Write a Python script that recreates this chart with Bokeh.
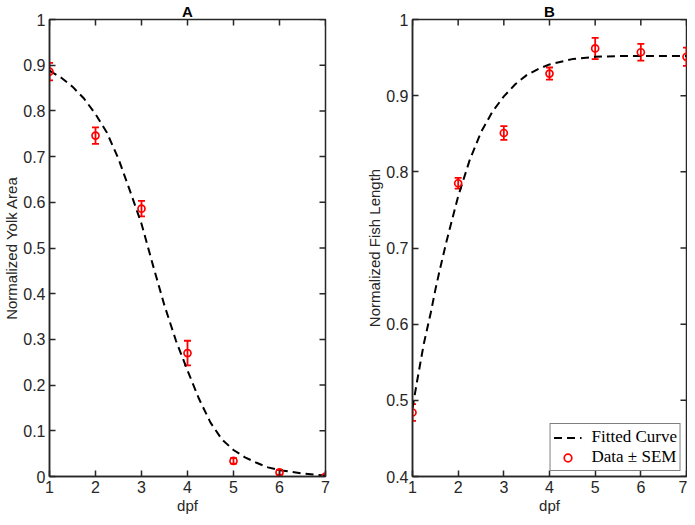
import math
from bokeh.plotting import figure
from bokeh.layouts import row
from bokeh.models import (FixedTicker, CustomJSTickFormatter, Whisker,
                          ColumnDataSource, Legend, LegendItem, Range1d, TeeHead)
from bokeh.embed import file_html
from bokeh.resources import INLINE

# ---------------- data ----------------
dpf = [1, 2, 3, 4, 5, 6, 7]

# Panel A: normalized yolk area
yolk_mean = [0.886, 0.746, 0.586, 0.270, 0.034, 0.009, 0.000]
yolk_sem = [0.019, 0.018, 0.017, 0.027, 0.006, 0.005, 0.002]
fit_a_x = [1.0, 1.25, 1.5, 1.75, 2.0, 2.25, 2.5, 2.75, 3.0, 3.25, 3.5, 3.75,
           4.0, 4.25, 4.5, 4.75, 5.0, 5.25, 5.5, 5.75, 6.0, 6.5, 7.0]
fit_a_y = [0.888, 0.873, 0.853, 0.827, 0.793, 0.752, 0.695, 0.625, 0.553, 0.462,
           0.374, 0.297, 0.232, 0.170, 0.118, 0.081, 0.058, 0.042, 0.030, 0.020,
           0.014, 0.0065, 0.002]

# Panel B: normalized fish length
length_mean = [0.484, 0.785, 0.851, 0.929, 0.962, 0.957, 0.951]
length_sem = [0.011, 0.007, 0.009, 0.008, 0.014, 0.011, 0.012]
fit_b_x = [1.0, 1.1, 1.25, 1.4, 1.5, 1.6, 1.75, 2.0, 2.25, 2.5, 2.75, 3.0, 3.25,
           3.5, 3.75, 4.0, 4.5, 5.0, 5.5, 6.0, 6.5, 7.0]
fit_b_y = [0.490, 0.525, 0.575, 0.615, 0.645, 0.672, 0.710, 0.768, 0.815, 0.852,
           0.879, 0.899, 0.915, 0.927, 0.935, 0.941, 0.948, 0.951, 0.952, 0.952,
           0.952, 0.952]

xticks = [1, 2, 3, 4, 5, 6, 7]
yticks_a = [0, 0.1, 0.2, 0.3, 0.4, 0.5, 0.6, 0.7, 0.8, 0.9, 1.0]
yticks_b = [0.4, 0.5, 0.6, 0.7, 0.8, 0.9, 1.0]

FONT = "Liberation Sans"
AX = "#262626"
RED = "#ff0000"


def style_axis(ax, ticks):
    ax.ticker = FixedTicker(ticks=ticks)
    ax.axis_line_color = AX
    ax.axis_line_width = 1.5
    ax.major_tick_line_color = AX
    ax.major_tick_line_width = 1.5
    ax.major_tick_in = 6
    ax.major_tick_out = 0
    ax.minor_tick_line_color = None
    ax.major_label_text_font = FONT
    ax.major_label_text_font_size = "16px"
    ax.major_label_text_color = AX
    ax.axis_label_text_font = FONT
    ax.axis_label_text_font_size = "15px"
    ax.axis_label_text_font_style = "normal"
    ax.axis_label_text_color = AX


def make_panel(title, ylabel, yr, yticks, fx, fy, m, e, fw, bl, br):
    x_range = Range1d(1, 7)
    y_range = Range1d(*yr)
    p = figure(frame_width=fw, frame_height=457, output_backend="svg",
               toolbar_location=None, x_range=x_range, y_range=y_range,
               min_border_left=bl, min_border_right=br, min_border_top=0,
               min_border_bottom=0)
    p.grid.visible = False
    p.outline_line_color = AX
    p.outline_line_width = 1.5
    p.background_fill_color = "white"
    p.border_fill_color = "white"
    p.title.text = title
    p.title.align = "center"
    p.title.text_font = FONT
    p.title.text_font_size = "15px"
    p.title.text_font_style = "bold"
    p.title.text_color = "black"
    p.title.standoff = 0
    p.title.offset = 0

    style_axis(p.xaxis[0], xticks)
    style_axis(p.yaxis[0], yticks)
    p.xaxis[0].axis_label = "dpf"
    p.yaxis[0].axis_label = ylabel
    p.xaxis[0].major_label_standoff = 4
    p.xaxis[0].axis_label_standoff = 1
    p.yaxis[0].major_label_standoff = 4
    p.yaxis[0].axis_label_standoff = 0
    p.yaxis[0].formatter = CustomJSTickFormatter(
        code="return tick.toFixed(1).replace(/\\.0$/, '');")

    # inward ticks on the top and right edges of the box
    p.ray(x=xticks, y=[yr[1]] * len(xticks), length=6, length_units="screen",
          angle=-math.pi / 2, line_color=AX, line_width=1.5)
    p.ray(x=[7] * len(yticks), y=yticks, length=6, length_units="screen",
          angle=math.pi, line_color=AX, line_width=1.5)

    line = p.line(fx, fy, line_color="black", line_width=2, line_dash="8 5")
    src = ColumnDataSource(dict(x=dpf, y=m,
                                lo=[a - b for a, b in zip(m, e)],
                                hi=[a + b for a, b in zip(m, e)]))
    w = Whisker(source=src, base="x", upper="hi", lower="lo",
                line_color=RED, line_width=1.8,
                upper_head=TeeHead(size=7, line_color=RED, line_width=1.8),
                lower_head=TeeHead(size=7, line_color=RED, line_width=1.8))
    p.add_layout(w)
    pts = p.scatter("x", "y", source=src, marker="circle", size=7,
                    fill_color=None, line_color=RED, line_width=1.7)
    return p, line, pts


pa, _, _ = make_panel("A", "Normalized Yolk Area", (0, 1), yticks_a,
                      fit_a_x, fit_a_y, yolk_mean, yolk_sem, 276, 30, 38)
pb, lb, sb = make_panel("B", "Normalized Fish Length", (0.4, 1), yticks_b,
                        fit_b_x, fit_b_y, length_mean, length_sem, 274, 40, 1)

legend = Legend(items=[LegendItem(label="Fitted Curve", renderers=[lb]),
                       LegendItem(label="Data \u00b1 SEM", renderers=[sb])],
                location="bottom_right")
legend.label_text_font = "Liberation Serif"
legend.label_text_font_size = "17px"
legend.label_text_color = "black"
legend.border_line_color = "black"
legend.border_line_width = 1.5
legend.background_fill_color = "white"
legend.background_fill_alpha = 1
legend.margin = 5
legend.padding = 3
legend.spacing = 0
legend.glyph_width = 28
legend.label_standoff = 10
legend.label_height = 19
legend.glyph_height = 19
pb.add_layout(legend)

layout = row(pa, pb)
open("out.html", "w").write(file_html(layout, INLINE))
